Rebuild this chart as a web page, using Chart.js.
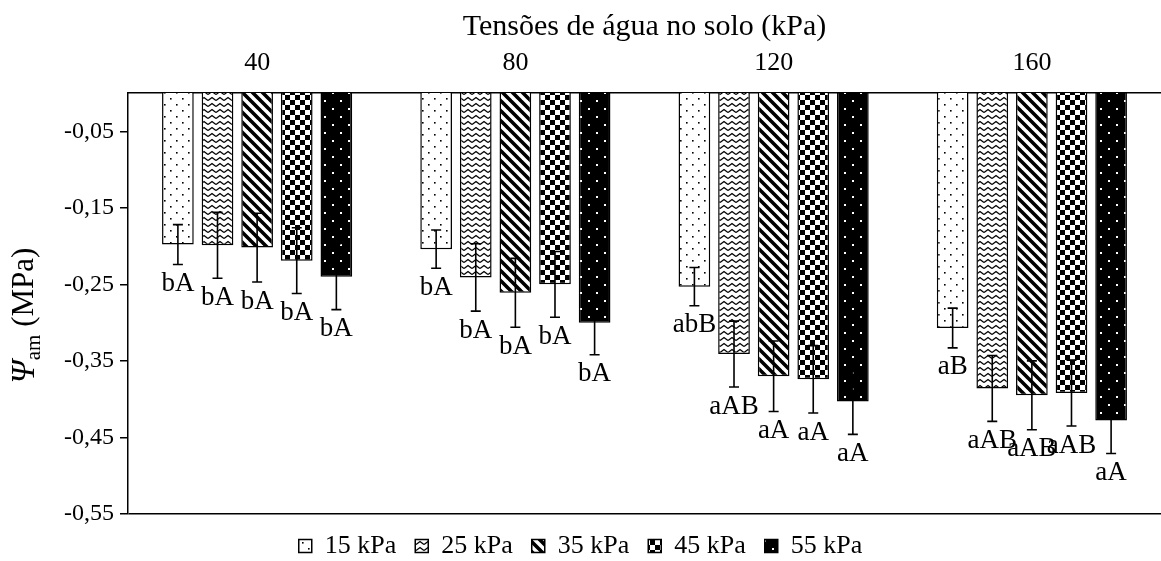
<!DOCTYPE html>
<html>
<head>
<meta charset="utf-8">
<script src="https://cdn.jsdelivr.net/npm/chart.js@4.4.1/dist/chart.umd.min.js"></script>
<style>
  html, body { margin: 0; padding: 0; background: #fff; }
  #wrap { width: 1161px; height: 561px; }
</style>
</head>
<body>
<div id="wrap"><canvas id="psiChart" width="1161" height="561"></canvas></div>
<script>
const FONT = '"Liberation Serif", "Times New Roman", serif';

// soil water tension levels (x categories) and treatments (series)
const tensoes = ['40', '80', '120', '160'];
const treatments = ['15 kPa', '25 kPa', '35 kPa', '45 kPa', '55 kPa'];
const yTicks = [-0.55, -0.45, -0.35, -0.25, -0.15, -0.05];

// mean leaf water potential (MPa)
const psi15 = [-0.198, -0.204, -0.253, -0.307];
const psi25 = [-0.199, -0.241, -0.341, -0.386];
const psi35 = [-0.202, -0.261, -0.370, -0.395];
const psi45 = [-0.219, -0.250, -0.374, -0.392];
const psi55 = [-0.240, -0.300, -0.403, -0.428];

// error bar half-lengths
const err15 = [0.026, 0.025, 0.025, 0.026];
const err25 = [0.043, 0.044, 0.043, 0.043];
const err35 = [0.045, 0.045, 0.046, 0.045];
const err45 = [0.043, 0.043, 0.044, 0.043];
const err55 = [0.043, 0.042, 0.043, 0.043];

// mean comparison letters
const let15 = ['bA', 'bA', 'abB', 'aB'];
const let25 = ['bA', 'bA', 'aAB', 'aAB'];
const let35 = ['bA', 'bA', 'aA', 'aAB'];
const let45 = ['bA', 'bA', 'aA', 'aAB'];
const let55 = ['bA', 'bA', 'aA', 'aA'];

const values = [psi15, psi25, psi35, psi45, psi55];
const errors = [err15, err25, err35, err45, err55];
const letters = [let15, let25, let35, let45, let55];

const canvas = document.getElementById('psiChart');
const ctx = canvas.getContext('2d');

function tile(w, h, paint) {
  const c = document.createElement('canvas');
  c.width = w; c.height = h;
  const g = c.getContext('2d');
  paint(g, w, h);
  return ctx.createPattern(c, 'repeat');
}

const fills = [
  // sparse black dots on white
  tile(12, 12, (g, w, h) => {
    g.fillStyle = '#fff'; g.fillRect(0, 0, w, h);
    g.fillStyle = '#000';
    g.fillRect(2, 2, 1.6, 1.6);
    g.fillRect(8, 8, 1.6, 1.6);
  }),
  // zigzag waves
  tile(8, 6, (g, w, h) => {
    g.fillStyle = '#fff'; g.fillRect(0, 0, w, h);
    g.strokeStyle = '#000'; g.lineWidth = 1.4;
    g.beginPath();
    g.moveTo(0, 4.5); g.lineTo(4, 1.5); g.lineTo(8, 4.5);
    g.stroke();
  }),
  // wide diagonal stripes
  tile(10, 10, (g, w, h) => {
    g.fillStyle = '#fff'; g.fillRect(0, 0, w, h);
    g.strokeStyle = '#000'; g.lineWidth = 3.6;
    g.beginPath();
    for (let k = -1; k <= 1; k++) {
      g.moveTo(k * w - 1, -1); g.lineTo(k * w + w + 1, h + 1);
    }
    g.stroke();
  }),
  // checkerboard
  tile(10, 10, (g, w, h) => {
    g.fillStyle = '#fff'; g.fillRect(0, 0, w, h);
    g.fillStyle = '#000';
    g.fillRect(0, 0, 5, 5);
    g.fillRect(5, 5, 5, 5);
  }),
  // white dots on black
  tile(16, 16, (g, w, h) => {
    g.fillStyle = '#000'; g.fillRect(0, 0, w, h);
    g.fillStyle = '#fff';
    g.fillRect(4, 4, 2, 2);
    g.fillRect(12, 12, 2, 2);
  })
];

const errorBars = {
  id: 'errorBars',
  afterDatasetsDraw(chart) {
    const c = chart.ctx;
    const y = chart.scales.y;
    c.save();
    c.strokeStyle = '#000';
    c.lineWidth = 1.6;
    chart.data.datasets.forEach((ds, i) => {
      chart.getDatasetMeta(i).data.forEach((bar, j) => {
        const v = ds.data[j], e = errors[i][j];
        const hi = y.getPixelForValue(v + e), lo = y.getPixelForValue(v - e);
        c.beginPath();
        c.moveTo(bar.x, hi); c.lineTo(bar.x, lo);
        c.moveTo(bar.x - 5, hi); c.lineTo(bar.x + 5, hi);
        c.moveTo(bar.x - 5, lo); c.lineTo(bar.x + 5, lo);
        c.stroke();
      });
    });
    c.fillStyle = '#000';
    c.font = `27px ${FONT}`;
    c.textAlign = 'center';
    c.textBaseline = 'top';
    chart.data.datasets.forEach((ds, i) => {
      chart.getDatasetMeta(i).data.forEach((bar, j) => {
        const lo = y.getPixelForValue(ds.data[j] - errors[i][j]);
        c.fillText(letters[i][j], bar.x, lo + 6);
      });
    });
    c.restore();
  }
};

// y axis title: italic psi with "am" subscript
const yTitle = {
  id: 'yTitle',
  afterDraw(chart) {
    const c = chart.ctx;
    const area = chart.chartArea;
    const main = `31px ${FONT}`, ital = `italic 33px ${FONT}`, sub = `21px ${FONT}`;
    c.save();
    c.font = ital; const w1 = c.measureText('Ψ').width;
    c.font = sub; const w2 = c.measureText('am').width;
    c.font = main; const w3 = c.measureText(' (MPa)').width;
    c.translate(25, (area.top + area.bottom) / 2 + 12);
    c.rotate(-Math.PI / 2);
    c.fillStyle = '#000';
    c.textBaseline = 'middle';
    c.textAlign = 'left';
    let x = -(w1 + w2 + w3) / 2;
    c.font = ital; c.fillText('Ψ', x, 0); x += w1;
    c.font = sub; c.fillText('am', x, 9); x += w2;
    c.font = main; c.fillText(' (MPa)', x, 0);
    c.restore();
  }
};

new Chart(ctx, {
  type: 'bar',
  data: {
    labels: tensoes,
    datasets: treatments.map((name, i) => ({
      label: name,
      data: values[i],
      backgroundColor: fills[i],
      borderColor: '#000',
      borderWidth: 1.5,
      categoryPercentage: 0.767,
      barPercentage: 0.8
    }))
  },
  options: {
    responsive: false,
    animation: false,
    layout: { padding: { top: 0, right: 0, bottom: -8, left: 0 } },
    plugins: {
      legend: {
        position: 'bottom',
        labels: {
          font: { family: FONT, size: 26 },
          color: '#000',
          boxWidth: 13,
          boxHeight: 13,
          padding: 19
        }
      },
      tooltip: { enabled: false }
    },
    scales: {
      x: {
        position: 'top',
        grid: { display: false, drawTicks: false },
        border: { display: true, color: '#000', width: 1.5 },
        ticks: { font: { family: FONT, size: 26 }, color: '#000', padding: 14 },
        title: {
          display: true,
          text: 'Tensões de água no solo (kPa)',
          font: { family: FONT, size: 30 },
          color: '#000',
          padding: { top: 9, bottom: 0 }
        },
        afterFit(s) { s.height = 93; }
      },
      y: {
        min: -0.55,
        max: 0,
        afterBuildTicks(s) { s.ticks = yTicks.map(v => ({ value: v })); },
        grid: {
          drawOnChartArea: true,
          color: c => (c.tick && c.tick.value === -0.55 ? '#000' : 'rgba(0,0,0,0)'),
          tickColor: '#000',
          tickLength: 8,
          lineWidth: 1.5
        },
        border: { display: true, color: '#000', width: 1.5 },
        ticks: {
          font: { family: FONT, size: 24 },
          color: '#000',
          padding: 6,
          callback: v => v.toFixed(2).replace('.', ',')
        },
        afterFit(s) { s.width = 128; }
      }
    }
  },
  plugins: [errorBars, yTitle]
});
</script>
</body>
</html>
